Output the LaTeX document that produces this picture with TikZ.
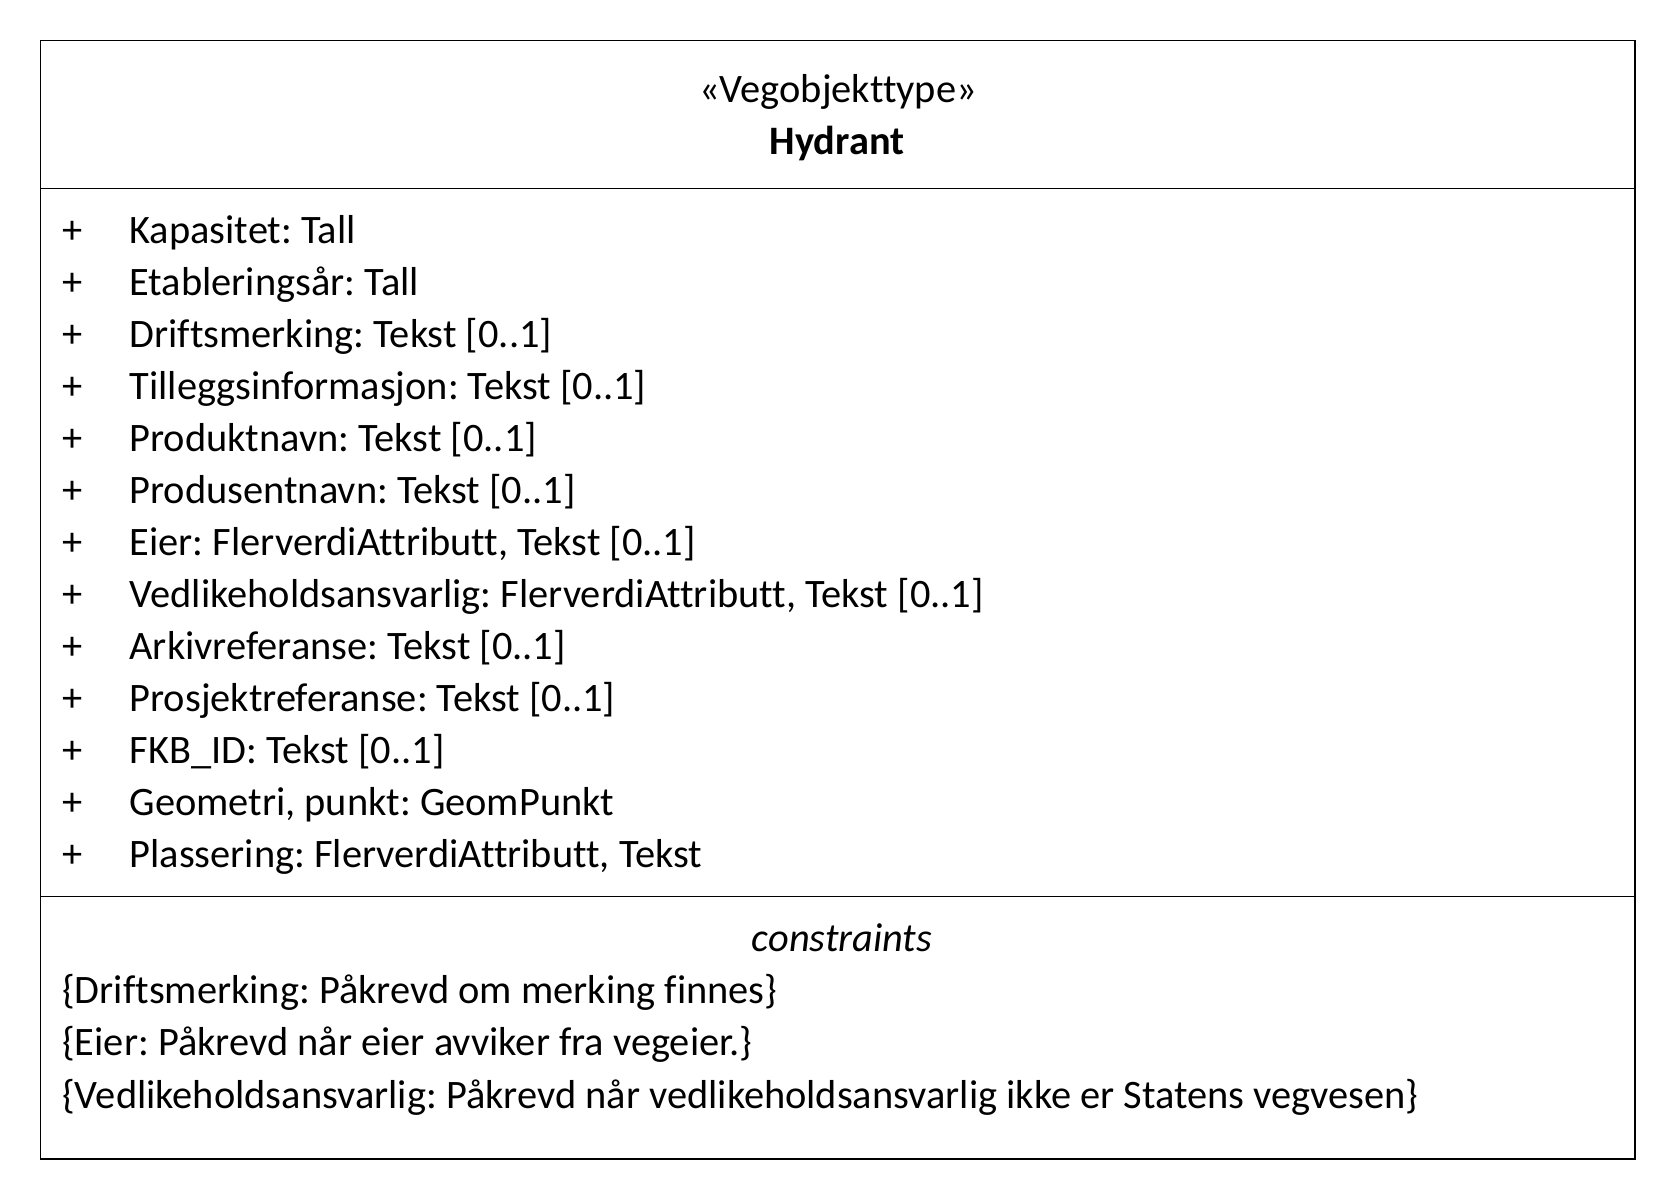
\documentclass[tikz,border=0pt]{standalone}
\usepackage{fontspec}
\setmainfont[Ligatures=NoCommon]{Carlito}
\usepackage{tikz}
\usetikzlibrary{positioning}
\frenchspacing

\begin{document}
\begin{tikzpicture}[x=0.5pt, y=-0.5pt, line width=0.6pt,
    every node/.style={inner sep=0pt, font=\fontsize{20.2}{24}\selectfont},
    plus/.style={anchor=base west},
    attr/.style={anchor=base west},
    cons/.style={anchor=base west}]
        \useasboundingbox (0,0) rectangle (1676,1200);

        % Box
        \draw (40.3,40.3) rectangle (1635,1159);
        \draw (40.3,188.3) -- (1635,188.3);
        \draw (40.3,896.7) -- (1635,896.7);

        % Header
        \node[anchor=base] (stereo) at (838,102.5) {«Vegobjekttype»};
        \node[anchor=base, font=\fontsize{20.2}{24}\selectfont\bfseries] (name) at (837,154) {Hydrant};

        % Attributes
        \node[plus] (p1) at (61.7,243.7) {+};
        \node[attr] (a1) at (129,243.7) {Kapasitet: Tall};
        \node[plus] (p2) at (61.7,295.7) {+};
        \node[attr] (a2) at (129,295.7) {Etableringsår: Tall};
        \node[plus] (p3) at (61.7,347.6) {+};
        \node[attr] (a3) at (129,347.6) {Driftsmerking: Tekst [0..1]};
        \node[plus] (p4) at (61.7,399.6) {+};
        \node[attr] (a4) at (129,399.6) {Tilleggsinformasjon: Tekst [0..1]};
        \node[plus] (p5) at (61.7,451.5) {+};
        \node[attr] (a5) at (129,451.5) {Produktnavn: Tekst [0..1]};
        \node[plus] (p6) at (61.7,503.5) {+};
        \node[attr] (a6) at (129,503.5) {Produsentnavn: Tekst [0..1]};
        \node[plus] (p7) at (61.7,555.4) {+};
        \node[attr] (a7) at (129,555.4) {Eier: FlerverdiAttributt, Tekst [0..1]};
        \node[plus] (p8) at (61.7,607.4) {+};
        \node[attr] (a8) at (129,607.4) {Vedlikeholdsansvarlig: FlerverdiAttributt, Tekst [0..1]};
        \node[plus] (p9) at (61.7,659.3) {+};
        \node[attr] (a9) at (129,659.3) {Arkivreferanse: Tekst [0..1]};
        \node[plus] (p10) at (61.7,711.3) {+};
        \node[attr] (a10) at (129,711.3) {Prosjektreferanse: Tekst [0..1]};
        \node[plus] (p11) at (61.7,763.2) {+};
        \node[attr] (a11) at (129,763.2) {FKB\_ID: Tekst [0..1]};
        \node[plus] (p12) at (61.7,815.2) {+};
        \node[attr] (a12) at (129,815.2) {Geometri, punkt: GeomPunkt};
        \node[plus] (p13) at (61.7,867.1) {+};
        \node[attr] (a13) at (129,867.1) {Plassering: FlerverdiAttributt, Tekst};

        % Constraints
        \node[anchor=base, font=\fontsize{20.2}{24}\selectfont\itshape] (ctitle) at (842,951) {constraints};
        \node[cons] (c1) at (61.7,1003.7) {\{Driftsmerking: Påkrevd om merking finnes\}};
        \node[cons] (c2) at (61.7,1055.7) {\{Eier: Påkrevd når eier avviker fra vegeier.\}};
        \node[cons] (c3) at (61.7,1108.7) {\{Vedlikeholdsansvarlig: Påkrevd når vedlikeholdsansvarlig ikke er Statens vegvesen\}};
\end{tikzpicture}
\end{document}
